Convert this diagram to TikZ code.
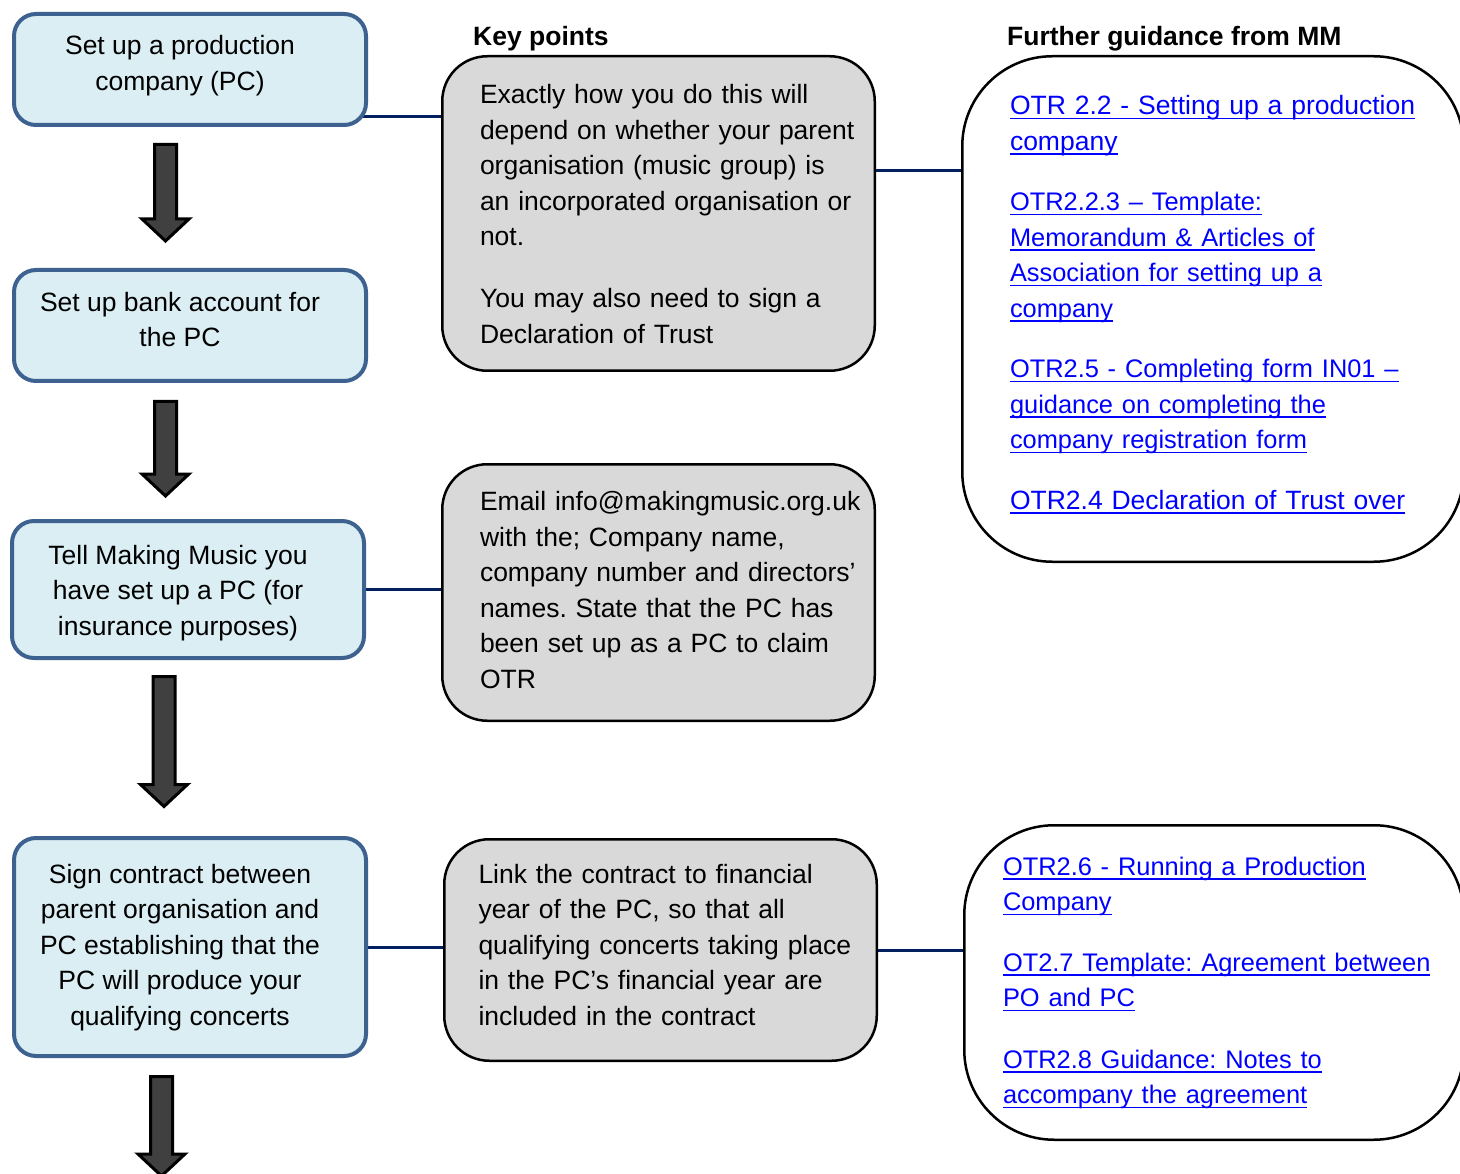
\documentclass[tikz,border=0pt]{standalone}
\usepackage{fontspec}
\setmainfont{Liberation Sans}
\usetikzlibrary{backgrounds}
\frenchspacing

\definecolor{stepfill}{HTML}{DAEEF3}
\definecolor{stepline}{HTML}{3E6290}
\definecolor{notefill}{HTML}{D9D9D9}
\definecolor{joinnavy}{HTML}{002060}
\definecolor{arrowgrey}{HTML}{404040}
\definecolor{linkblue}{HTML}{0000FF}

\newcommand{\mmsize}{\fontsize{26.5}{35.5}\selectfont}
% link text, optional font size
\newcommand{\mmlink}[2][25.4]{\textcolor{linkblue}{\fontsize{#1}{35.5}\selectfont\setbox0\hbox{#2}\rlap{\rule[-4.5pt]{\wd0}{1.8pt}}\box0}}

\tikzset{
  stepbox/.style={draw=stepline, fill=stepfill, line width=4pt, rounded corners=22pt,
    minimum width=352pt, inner sep=0pt, align=center},
  notebox/.style={draw=black, fill=notefill, line width=2.5pt, rounded corners=45pt,
    minimum width=432.5pt, inner sep=0pt, align=left},
  guidebox/.style={draw=black, fill=white, line width=2.5pt, rounded corners=90pt,
    inner sep=0pt, align=left},
  heading/.style={font=\mmsize\bfseries, anchor=base west, inner sep=0pt},
  joinline/.style={draw=joinnavy, line width=3pt},
  blockarrow/.style={draw=black, fill=arrowgrey, line width=3pt, line join=miter},
}

\begin{document}
\begin{tikzpicture}[x=1pt, y=-1pt, font=\mmsize]
    \useasboundingbox (0,0) rectangle (1460,1174);
    \clip (0,0) rectangle (1460,1174);

    % Steps down the left side
    \node[stepbox, minimum height=111pt] (setup) at (190,69.5)
        {\begin{tabular}{@{}c@{\hspace{20pt}}}Set up a production\\company (PC)\\[8pt]\end{tabular}};%
    \node[stepbox, minimum height=111pt] (bank) at (190,325.5)
        {\begin{tabular}{@{}c@{\hspace{20pt}}}Set up bank account for\\the PC\\[7pt]\end{tabular}};%
    \node[stepbox, minimum height=137pt] (tell) at (188,589.5)
        {\begin{tabular}{@{}c@{\hspace{20pt}}}\\[-29.5pt]Tell Making Music you\\have set up a PC (for\\insurance purposes)\end{tabular}};%
    \node[stepbox, minimum height=218pt] (sign) at (190,947)
        {\begin{tabular}{@{}c@{\hspace{20pt}}}Sign contract between\\parent organisation and\\PC establishing that the\\PC will produce your\\qualifying concerts\end{tabular}};%

    % Block arrows between the steps
    \foreach \ax/\ya/\yb in {165.5/144.5/241, 165.5/401.5/496, 164/676.5/806.5, 161.5/1076.5/1176}
        \draw[blockarrow] (\ax-11,\ya) -- (\ax+11,\ya) -- (\ax+11,\yb-22) -- (\ax+23.5,\yb-22)
            -- (\ax,\yb) -- (\ax-23.5,\yb-22) -- (\ax-11,\yb-22) -- cycle;%

    % Column headings
    \node[heading] (keyhead) at (473,45.5) {Key points};%
    \node[heading] (guidehead) at (1007,45.5) {Further guidance from MM};%

    % Key points
    \node[notebox, text width=357pt, minimum height=314.5pt] (trust) at (658.5,213.5)
        {\begin{tabular}{@{}l@{}}\\[-29.5pt]Exactly how you do this will\\depend on whether your parent\\organisation (music group) is\\an incorporated organisation or\\not.\\[26.5pt]You may also need to sign a\\Declaration of Trust\end{tabular}};%
    \node[notebox, text width=357pt, minimum height=256.5pt] (email) at (658.5,592.5)
        {\begin{tabular}{@{}l@{}}Email info@makingmusic.org.uk\\with the; Company name,\\company number and directors’\\names. State that the PC has\\been set up as a PC to claim\\OTR\end{tabular}};%
    \node[notebox, text width=364pt, minimum height=221.5pt] (contract) at (660.5,950)
        {\begin{tabular}{@{}l@{}}Link the contract to financial\\year of the PC, so that all\\qualifying concerts taking place\\in the PC’s financial year are\\included in the contract\\[6pt]\end{tabular}};%

    % Further guidance
    \node[guidebox, text width=406pt, minimum width=501.5pt, minimum height=505.5pt] (company) at (1213,309)
        {\begin{tabular}{@{}l@{}}\mmlink[26.5]{OTR 2.2 - Setting up a production}\\\mmlink[26.5]{company}\\[25pt]%
        \mmlink{OTR2.2.3 – Template:}\\\mmlink{Memorandum \& Articles of}\\\mmlink{Association for setting up a}\\\mmlink{company}\\[25pt]%
        \mmlink{OTR2.5 - Completing form IN01 –}\\\mmlink{guidance on completing the}\\\mmlink{company registration form}\\[25pt]%
        \mmlink[26.5]{OTR2.4 Declaration of Trust over}\\[8pt]\end{tabular}};%
    \node[guidebox, text width=422pt, minimum width=499.5pt, minimum height=314.5pt] (agree) at (1214,982.5)
        {\begin{tabular}{@{}l@{}}\mmlink{OTR2.6 - Running a Production}\\\mmlink{Company}\\[25pt]%
        \mmlink{OT2.7 Template: Agreement between}\\\mmlink{PO and PC}\\[26pt]%
        \mmlink{OTR2.8 Guidance: Notes to}\\\mmlink{accompany the agreement}\end{tabular}};%

    % Joining lines
    \path (setup.south east) ++(0,-10) coordinate (j1);%
    \path (trust.east) ++(0,-42.5) coordinate (j2);%
    \begin{scope}[on background layer]
        \draw[joinline] (j1 -| setup.center) -- (j1 -| trust.center);%
        \draw[joinline] (j2 -| trust.center) -- (j2 -| company.center);%
        \draw[joinline] (tell.center) -- (tell.center -| email.center);%
        \draw[joinline] (sign.center) -- (sign.center -| contract.center);%
        \draw[joinline] (contract.center) -- (contract.center -| agree.center);%
    \end{scope}
\end{tikzpicture}
\end{document}
